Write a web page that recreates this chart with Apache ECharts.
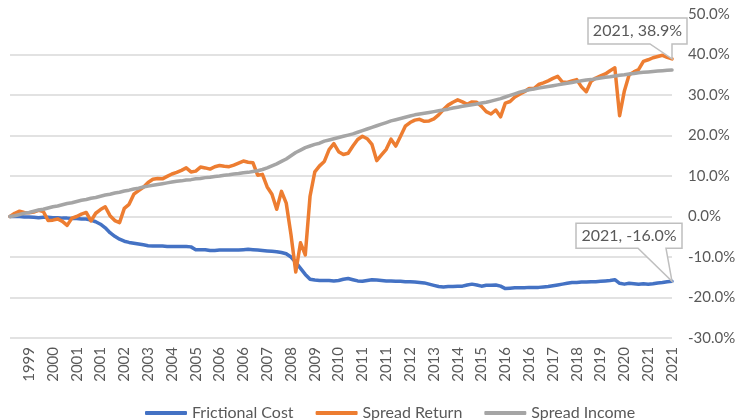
<!DOCTYPE html>
<html>
<head>
<meta charset="utf-8">
<script src="https://cdn.jsdelivr.net/npm/echarts@6/dist/echarts.min.js"></script>
<style>
	html, body { margin: 0; padding: 0; background: #fff; }
	#chart { width: 739px; height: 420px; }
</style>
</head>
<body>
<div id="chart"></div>
<script>
// bi-monthly observations, Sep 1998 .. Nov 2021
const categories = [
	'1998-09','1998-11',
	'1999-01','1999-03','1999-05','1999-07','1999-09','1999-11',
	'2000-01','2000-03','2000-05','2000-07','2000-09','2000-11',
	'2001-01','2001-03','2001-05','2001-07','2001-09','2001-11',
	'2002-01','2002-03','2002-05','2002-07','2002-09','2002-11',
	'2003-01','2003-03','2003-05','2003-07','2003-09','2003-11',
	'2004-01','2004-03','2004-05','2004-07','2004-09','2004-11',
	'2005-01','2005-03','2005-05','2005-07','2005-09','2005-11',
	'2006-01','2006-03','2006-05','2006-07','2006-09','2006-11',
	'2007-01','2007-03','2007-05','2007-07','2007-09','2007-11',
	'2008-01','2008-03','2008-05','2008-07','2008-09','2008-11',
	'2009-01','2009-03','2009-05','2009-07','2009-09','2009-11',
	'2010-01','2010-03','2010-05','2010-07','2010-09','2010-11',
	'2011-01','2011-03','2011-05','2011-07','2011-09','2011-11',
	'2012-01','2012-03','2012-05','2012-07','2012-09','2012-11',
	'2013-01','2013-03','2013-05','2013-07','2013-09','2013-11',
	'2014-01','2014-03','2014-05','2014-07','2014-09','2014-11',
	'2015-01','2015-03','2015-05','2015-07','2015-09','2015-11',
	'2016-01','2016-03','2016-05','2016-07','2016-09','2016-11',
	'2017-01','2017-03','2017-05','2017-07','2017-09','2017-11',
	'2018-01','2018-03','2018-05','2018-07','2018-09','2018-11',
	'2019-01','2019-03','2019-05','2019-07','2019-09','2019-11',
	'2020-01','2020-03','2020-05','2020-07','2020-09','2020-11',
	'2021-01','2021-03','2021-05','2021-07','2021-09','2021-11'
];

// values in %
const frictionalCost = [
	0, 0, 0, -0.1, -0.1, -0.2, -0.3, -0.2, -0.2, -0.3,
	-0.3, -0.4, -0.4, -0.5, -0.5, -0.6, -0.6, -0.9, -1.3, -1.9,
	-2.8, -4.0, -4.9, -5.6, -6.1, -6.4, -6.6, -6.8, -7.0, -7.2,
	-7.3, -7.3, -7.3, -7.4, -7.4, -7.4, -7.4, -7.4, -7.5, -8.2,
	-8.2, -8.2, -8.4, -8.4, -8.3, -8.3, -8.3, -8.3, -8.3, -8.2,
	-8.1, -8.2, -8.3, -8.4, -8.5, -8.6, -8.7, -8.9, -9.2, -10.0,
	-11.3, -12.8, -14.3, -15.5, -15.7, -15.8, -15.8, -15.8, -15.9, -15.8,
	-15.5, -15.3, -15.6, -15.9, -16.0, -15.8, -15.6, -15.7, -15.8, -15.9,
	-15.9, -16.0, -16.0, -16.1, -16.1, -16.2, -16.3, -16.4, -16.7, -17.0,
	-17.3, -17.4, -17.3, -17.3, -17.2, -17.2, -16.9, -16.7, -16.9, -17.2,
	-17.0, -17.0, -16.9, -17.2, -17.8, -17.7, -17.6, -17.6, -17.6, -17.5,
	-17.5, -17.5, -17.4, -17.3, -17.1, -16.9, -16.7, -16.5, -16.3, -16.3,
	-16.2, -16.2, -16.1, -16.1, -16.0, -15.9, -15.8, -15.6, -16.5, -16.7,
	-16.5, -16.6, -16.7, -16.6, -16.7, -16.6, -16.4, -16.3, -16.1, -16.0
];

const spreadReturn = [
	0, 0.8, 1.3, 1.0, 0.9, 1.1, 1.5, 1.2, -1.0, -0.9,
	-0.6, -1.2, -2.2, -0.4, 0.0, 0.6, 1.0, -1.1, 0.8, 1.7,
	2.4, 0.2, -1.0, -1.5, 2.0, 3.0, 5.5, 6.4, 7.2, 8.4,
	9.2, 9.4, 9.3, 9.9, 10.5, 10.9, 11.4, 12.0, 11.0, 11.2,
	12.2, 12.0, 11.7, 12.3, 12.6, 12.4, 12.3, 12.7, 13.2, 13.7,
	13.4, 13.3, 10.2, 10.4, 7.3, 5.5, 1.8, 6.2, 3.3, -4.5,
	-13.7, -6.5, -9.5, 5.0, 11.0, 12.5, 13.6, 16.5, 18.0, 16.0,
	15.3, 15.6, 17.4, 19.0, 19.8, 19.2, 17.8, 13.8, 15.2, 16.6,
	19.1, 17.4, 19.8, 22.3, 23.2, 23.8, 24.0, 23.5, 23.6, 24.1,
	25.1, 26.4, 27.5, 28.2, 28.8, 28.3, 27.7, 28.3, 28.2, 27.2,
	25.9, 25.3, 26.3, 24.6, 28.0, 28.4, 29.5, 30.2, 30.8, 31.6,
	31.6, 32.6, 33.0, 33.5, 34.1, 34.6, 33.2, 33.1, 33.5, 33.8,
	32.0, 30.8, 33.4, 34.2, 34.7, 35.2, 36.0, 36.7, 24.9, 31.0,
	35.0, 35.7, 36.3, 38.3, 38.7, 39.2, 39.5, 39.8, 39.3, 38.9
];

const spreadIncome = [
	0.0, 0.2, 0.5, 0.8, 1.0, 1.3, 1.6, 1.8, 2.1, 2.4,
	2.6, 2.9, 3.2, 3.4, 3.7, 4.0, 4.2, 4.5, 4.7, 5.0,
	5.3, 5.5, 5.8, 6.0, 6.3, 6.5, 6.8, 7.0, 7.3, 7.5,
	7.7, 7.9, 8.1, 8.3, 8.5, 8.7, 8.8, 9.0, 9.1, 9.3,
	9.4, 9.6, 9.7, 9.9, 10.0, 10.2, 10.3, 10.5, 10.6, 10.8,
	10.9, 11.1, 11.3, 11.6, 12.0, 12.5, 13.0, 13.6, 14.2, 15.0,
	15.8, 16.4, 17.0, 17.4, 17.8, 18.1, 18.6, 18.9, 19.2, 19.5,
	19.8, 20.1, 20.4, 20.8, 21.2, 21.6, 22.0, 22.4, 22.8, 23.2,
	23.6, 23.9, 24.2, 24.5, 24.8, 25.1, 25.3, 25.5, 25.7, 25.9,
	26.1, 26.3, 26.5, 26.8, 27.0, 27.2, 27.4, 27.6, 27.8, 28.0,
	28.2, 28.5, 28.8, 29.1, 29.5, 29.9, 30.3, 30.7, 31.0, 31.3,
	31.5, 31.7, 31.9, 32.1, 32.3, 32.5, 32.7, 32.9, 33.1, 33.3,
	33.5, 33.7, 33.8, 34.0, 34.2, 34.4, 34.5, 34.7, 34.9, 35.0,
	35.2, 35.3, 35.5, 35.6, 35.7, 35.8, 35.9, 36.0, 36.1, 36.2
];

const seriesNames = ['Frictional Cost', 'Spread Return', 'Spread Income'];
const seriesColors = ['#4472C4', '#ED7D31', '#A5A5A5'];

const FONT = 'Lato, "Noto Sans", sans-serif';
const TEXT_COLOR = '#595959';

let chart = echarts.init(document.getElementById('chart'), null, { renderer: 'canvas' });

let makeLine = function(name, color, data) {
	return {
		name: name,
		type: 'line',
		data: data,
		symbol: 'none',
		color: color,
		lineStyle: { width: 3.5, color: color, cap: 'round', join: 'round' },
		animation: false
	};
};

let option = {
	animation: false,
	grid: { left: 10, right: 67, top: 14, bottom: 82 },
	legend: {
		data: seriesNames,
		top: 400,
		left: 140,
		icon: 'roundRect',
		itemWidth: 42,
		itemHeight: 4,
		itemGap: 22,
		textStyle: { fontFamily: FONT, fontSize: 16, color: TEXT_COLOR }
	},
	xAxis: {
		type: 'category',
		data: categories,
		boundaryGap: false,
		axisLine: { show: false, onZero: false },
		axisTick: { show: false },
		splitLine: { show: false },
		axisLabel: {
			rotate: 90,
			margin: 9,
			interval: function(index) { return index % 5 === 4; },
			formatter: function(v) { return v.slice(0, 4); },
			fontFamily: FONT,
			fontSize: 15,
			color: TEXT_COLOR
		}
	},
	yAxis: {
		type: 'value',
		position: 'right',
		min: -30,
		max: 50,
		interval: 10,
		axisLine: { show: false },
		axisTick: { show: false },
		axisLabel: {
			margin: 16,
			formatter: function(v) { return v.toFixed(1) + '%'; },
			fontFamily: FONT,
			fontSize: 15,
			color: TEXT_COLOR
		},
		splitLine: {
			showMaxLine: false,
			lineStyle: { color: '#d9d9d9', width: 1.5 }
		}
	},
	series: [
		makeLine(seriesNames[0], seriesColors[0], frictionalCost),
		makeLine(seriesNames[1], seriesColors[1], spreadReturn),
		makeLine(seriesNames[2], seriesColors[2], spreadIncome)
	]
};

chart.setOption(option);

/** callouts on the last point of a series **/
let lastIdx = categories.length - 1;
let callout = function(seriesIndex, data, box, tail) {
	let p = chart.convertToPixel({ seriesIndex: seriesIndex }, [lastIdx, data[lastIdx]]);
	let L = p[0] + box[0], R = p[0] + box[1], T = p[1] + box[2], B = p[1] + box[3];
	let text = categories[lastIdx].slice(0, 4) + ', ' + data[lastIdx].toFixed(1) + '%';
	return [{
		type: 'polygon',
		z: 100,
		shape: { points: [[L, T], [R, T], [R, B], [p[0] + tail[1], B], [p[0], p[1]], [p[0] + tail[0], B], [L, B]] },
		style: { fill: '#fff', stroke: '#bfbfbf', lineWidth: 1.5 }
	}, {
		type: 'text',
		z: 101,
		x: (L + R) / 2,
		y: (T + B) / 2,
		style: { text: text, fill: TEXT_COLOR, font: '16px ' + FONT, align: 'center', verticalAlign: 'middle' }
	}];
};

chart.setOption({
	graphic: [].concat(
		callout(1, spreadReturn, [-84, 15, -41, -15], [-22, 0]),
		callout(0, frictionalCost, [-96, 10, -58, -33], [-34, -6])
	)
});
</script>
</body>
</html>
